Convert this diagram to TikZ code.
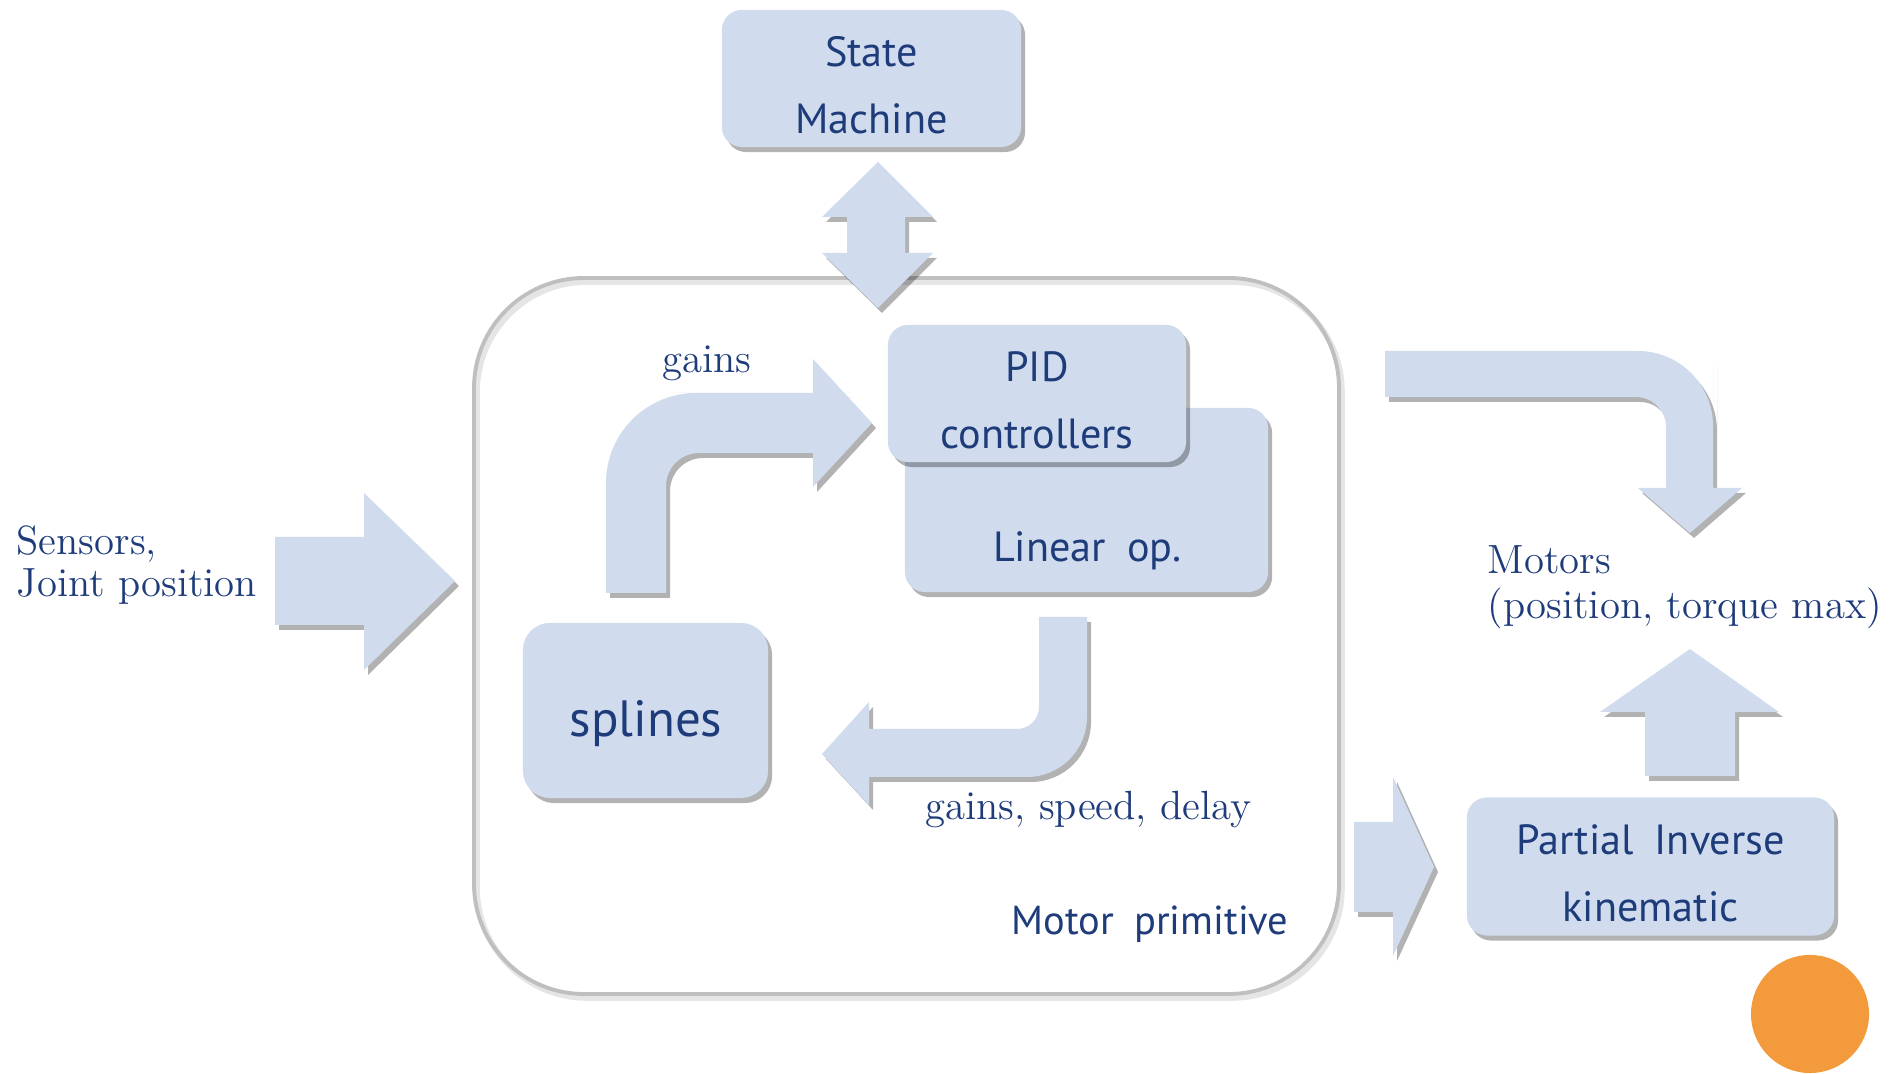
\documentclass[tikz,border=0pt]{standalone}
\usepackage{fontspec}
\newfontfamily\boxfont{PT Sans}
\usetikzlibrary{shadows,positioning}
\definecolor{boxblue}{HTML}{D0DCEE}
\definecolor{textblue}{HTML}{1E3B7A}
\definecolor{dotorange}{HTML}{F39A3D}

\begin{document}
\begin{tikzpicture}[x=0.01cm,y=-0.01cm,
		softshadow/.style={drop shadow={shadow xshift=0.04cm,shadow yshift=-0.05cm,opacity=0.3,fill=black}},
		blockarrow/.style={fill=boxblue,softshadow},
		box/.style={fill=boxblue,rounded corners=0.2cm,inner sep=0pt,softshadow},
		boxtxt/.style={text=textblue,align=center,inner sep=0pt,font=\boxfont\fontsize{12}{19}\selectfont},
		lbl/.style={text=textblue,inner sep=0pt,font=\fontsize{11.6}{14}\selectfont}]
		\useasboundingbox (0,0) rectangle (1896,1074);
		\fill[white] (0,0) rectangle (1896,1074);

		% motor primitive frame
		\draw[black!10,line width=1.6pt,rounded corners=1.1cm] (477,282) rectangle (1342,998);
		\draw[black!25,line width=1.1pt,rounded corners=1.1cm] (474,278) rectangle (1339,994);

		% block arrows
		\fill[blockarrow] (275,537) -- (364,537) -- (364,493) -- (455,581) -- (364,670) -- (364,625) -- (275,625) -- cycle;
		\fill[blockarrow] (878,162) -- (933,217) -- (905,217) -- (905,253) -- (933,253) -- (878,308) -- (822,253) -- (847,253) -- (847,217) -- (822,217) -- cycle;
		\fill[blockarrow] (606,593) -- (606,500) [rounded corners=0.9cm] -- (606,393) -- (760,393) [sharp corners] -- (813,393) -- (813,359) -- (872,423) -- (813,487) -- (813,453) -- (760,453) [rounded corners=0.33cm] -- (666,453) -- (666,520) [sharp corners] -- (666,593) -- cycle;
		\fill[blockarrow] (1039,617) -- (1087,617) -- (1087,690) [rounded corners=0.6cm] -- (1087,777) -- (950,777) [sharp corners] -- (869,777) -- (869,805) -- (822,754) -- (869,702) -- (869,729) -- (950,729) [rounded corners=0.22cm] -- (1039,729) -- (1039,680) [sharp corners] -- (1039,617) -- cycle;
		\fill[blockarrow] (1385,351) -- (1550,351) [rounded corners=0.75cm] -- (1713,351) -- (1713,440) [sharp corners] -- (1713,488) -- (1742,488) -- (1690,533) -- (1638,488) -- (1666,488) -- (1666,450) [rounded corners=0.3cm] -- (1666,397) -- (1550,397) [sharp corners] -- (1385,397) -- cycle;
		\fill[blockarrow] (1645,776) -- (1645,712) -- (1600,712) -- (1690,649) -- (1779,712) -- (1735,712) -- (1735,776) -- cycle;
		\fill[blockarrow] (1354,822) -- (1393,822) -- (1393,777) -- (1434,867) -- (1393,956) -- (1393,912) -- (1354,912) -- cycle;

		% boxes
		\node[box,minimum width=2.99cm,minimum height=1.37cm] (SM) at (871.5,78.5) {};
		\node[boxtxt,yshift=-0.07cm] (SMtext) at (SM) {State\\Machine};
		\node[box,minimum width=3.63cm,minimum height=1.84cm] (LO) at (1086.5,500) {};
		\node[boxtxt,anchor=base] (LOtext) at (1087,562) {Linear\enspace op.};
		\node[box,minimum width=2.98cm,minimum height=1.37cm] (PID) at (1037,393.5) {};
		\node[boxtxt,yshift=-0.07cm] (PIDtext) at (PID) {PID\\controllers};
		\node[box,rounded corners=0.27cm,minimum width=2.45cm,minimum height=1.75cm] (SPL) at (645.5,710.5) {};
		\node[boxtxt,anchor=base,font=\boxfont\fontsize{14.5}{17}\selectfont] (SPLtext) at (646,737) {splines};
		\node[box,minimum width=3.67cm,minimum height=1.38cm] (PIK) at (1650.5,866.5) {};
		\node[boxtxt,yshift=-0.07cm] (PIKtext) at (PIK) {Partial\enspace Inverse\\kinematic};

		% labels
		\node[lbl,anchor=base west] (sens) at (16,555) {Sensors,};
		\node[lbl,anchor=base west] (joint) at (16,597) {Joint position};
		\node[lbl,anchor=base] (gains) at (707,373) {gains};
		\node[lbl,anchor=base west] (gsd) at (925,820) {gains, speed, delay};
		\node[lbl,anchor=base west] (motors) at (1487,574) {Motors};
		\node[lbl,anchor=base west] (motpos) at (1487,619) {(position, torque max)};
		\node[boxtxt,anchor=base,font=\boxfont\fontsize{11.5}{14}\selectfont] (mprim) at (1150,935) {Motor\enspace primitive};

		\fill[dotorange] (1810,1014) circle (0.59cm);
	\end{tikzpicture}
\end{document}
